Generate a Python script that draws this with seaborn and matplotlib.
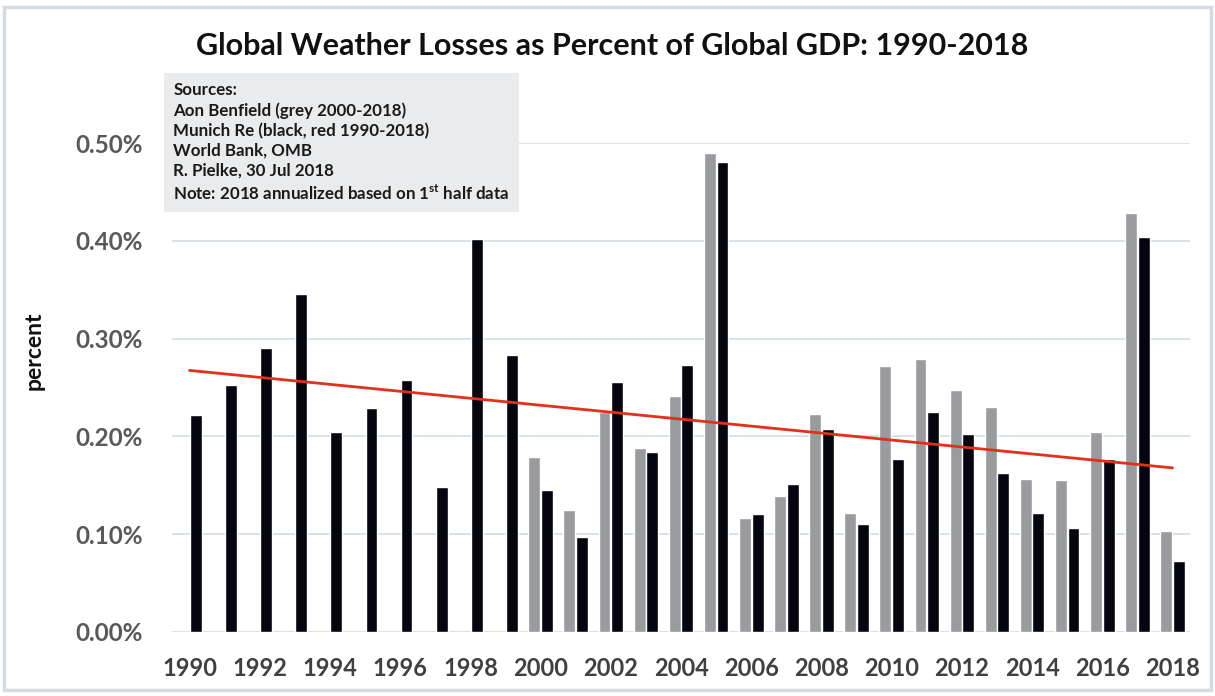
import numpy as np
import pandas as pd
import matplotlib
matplotlib.use("Agg")
import matplotlib.pyplot as plt
import seaborn as sns
from matplotlib.patches import Rectangle

years = list(range(1990, 2019))
munich_re = [0.222, 0.253, 0.290, 0.346, 0.205, 0.229, 0.258, 0.148, 0.402, 0.283,
             0.145, 0.097, 0.256, 0.184, 0.273, 0.481, 0.121, 0.151, 0.208, 0.110,
             0.177, 0.225, 0.202, 0.163, 0.122, 0.106, 0.177, 0.404, 0.073]
aon_years = list(range(2000, 2019))
aon_benfield = [0.179, 0.125, 0.225, 0.188, 0.241, 0.490, 0.117, 0.139, 0.223, 0.122,
                0.272, 0.279, 0.247, 0.230, 0.156, 0.155, 0.205, 0.428, 0.103]
ytick_vals = [0.0, 0.1, 0.2, 0.3, 0.4, 0.5]
ytick_labels = ["0.00%", "0.10%", "0.20%", "0.30%", "0.40%", "0.50%"]
title = "Global Weather Losses as Percent of Global GDP: 1990-2018"
sources_text = ("Sources:\nAon Benfield (grey 2000-2018)\nMunich Re (black, red 1990-2018)\n"
                "World Bank, OMB\nR. Pielke, 30 Jul 2018\n"
                "Note: 2018 annualized based on 1$^{\\mathregular{st}}$ half data")

sns.set_theme(style="white")
plt.rcParams['font.family'] = ['Lato', 'DejaVu Sans']

df = pd.concat([
    pd.DataFrame({"year": [str(y) for y in aon_years], "value": aon_benfield, "source": "Aon"}),
    pd.DataFrame({"year": [str(y) for y in years], "value": munich_re, "source": "Munich"}),
])

fig = plt.figure(figsize=(12.15, 6.96), dpi=100)
ax = fig.add_axes([0.1416, 0.092, 0.9795 - 0.1416, 0.7945 - 0.092])

sns.barplot(data=df, x="year", y="value", hue="source", order=[str(y) for y in years],
            hue_order=["Aon", "Munich"], palette={"Aon": "#999b9e", "Munich": "#05050f"},
            width=0.72, gap=0.06, saturation=1, legend=False, ax=ax, errorbar=None)

trend_df = pd.DataFrame({"idx": np.arange(len(years)), "value": munich_re})
sns.regplot(data=trend_df, x="idx", y="value", scatter=False, ci=None, ax=ax,
            line_kws={"color": "#e2301c", "lw": 2.0}, truncate=True)

ax.set_xlim(-0.5, len(years) - 0.5)
ax.set_ylim(0, 0.5)
ax.set_yticks(ytick_vals)
ax.set_yticklabels(ytick_labels)
ax.set_xticks(range(0, len(years), 2))
ax.set_xticklabels([str(y) for y in years[::2]])
for s in ax.spines.values():
    s.set_visible(False)
ax.grid(axis="y", color="#d3dbe3", lw=1.2)
ax.set_axisbelow(True)
ax.tick_params(axis="y", labelsize=17.5, labelcolor="#595959", pad=21, length=0)
ax.tick_params(axis="x", labelsize=17, labelcolor="#404040", pad=18, length=0)
for lab in ax.get_xticklabels() + ax.get_yticklabels():
    lab.set_fontweight("bold")
ax.set_xlabel("")
ax.set_ylabel("percent", fontsize=16.5, fontweight="bold", color="#111111")
ax.yaxis.set_label_coords(-0.125, 0.575)

fig.text(0.504, 0.934, title, ha="center", va="center", fontsize=22, fontweight="bold",
         color="#111111")
fig.text(0.1425, 0.882, sources_text, ha="left", va="top", fontsize=12.2,
         fontweight="bold", color="#1a1a1a", linespacing=1.3,
         bbox=dict(boxstyle="square,pad=0.55", fc="#e9ebed", ec="none"))

fig.patches.append(Rectangle((0.003, 0.008), 0.994, 0.982, transform=fig.transFigure,
                             fill=False, ec="#d3dbe4", lw=2.5))

fig.savefig("out.png", dpi=100, facecolor="white")
